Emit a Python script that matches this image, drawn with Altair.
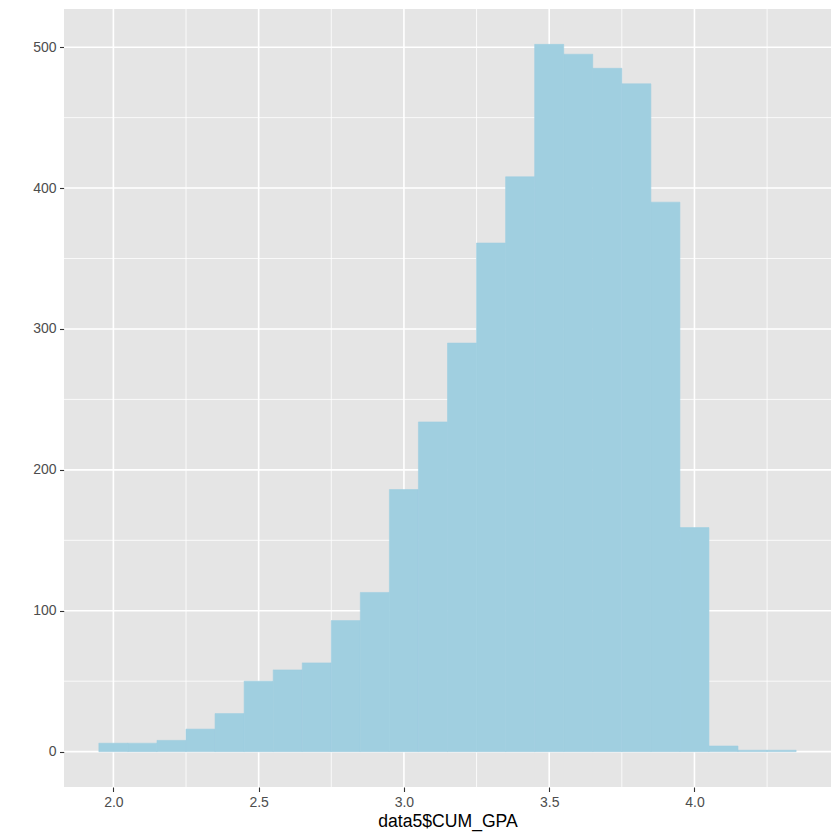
import altair as alt
import pandas as pd

# histogram bins (width 0.1)
bin_start = [1.95, 2.05, 2.15, 2.25, 2.35, 2.45, 2.55, 2.65, 2.75, 2.85, 2.95, 3.05,
             3.15, 3.25, 3.35, 3.45, 3.55, 3.65, 3.75, 3.85, 3.95, 4.05, 4.15, 4.25]
counts = [6, 6, 8, 16, 27, 50, 58, 63, 93, 113, 186, 234,
          290, 361, 408, 502, 495, 485, 474, 390, 159, 4, 1, 1]
x_major = [2.0, 2.5, 3.0, 3.5, 4.0]
x_minor = [2.25, 2.75, 3.25, 3.75, 4.25]
y_major = [0, 100, 200, 300, 400, 500]
y_minor = [50, 150, 250, 350, 450]

df = pd.DataFrame({
    "start": bin_start,
    "end": [round(s + 0.1, 2) for s in bin_start],
    "count": counts,
    "zero": [0] * len(counts),
})

xscale = alt.Scale(domain=[1.83, 4.47], nice=False, zero=False)
yscale = alt.Scale(domain=[-25.1, 527.1], nice=False, zero=False)
xaxis = alt.Axis(values=x_major, format=".1f", title="data5$CUM_GPA")
yaxis = alt.Axis(values=y_major, format="d", title=None)

grid_color = "#FFFFFF"
bar_color = "#A0CFE0"

vminor = alt.Chart(pd.DataFrame({"x": x_minor})).mark_rule(
    color=grid_color, strokeWidth=0.8
).encode(x=alt.X("x:Q", scale=xscale, axis=xaxis))
vmajor = alt.Chart(pd.DataFrame({"x": x_major})).mark_rule(
    color=grid_color, strokeWidth=1.6
).encode(x=alt.X("x:Q", scale=xscale, axis=xaxis))
hminor = alt.Chart(pd.DataFrame({"y": y_minor})).mark_rule(
    color=grid_color, strokeWidth=0.8
).encode(y=alt.Y("y:Q", scale=yscale, axis=yaxis))
hmajor = alt.Chart(pd.DataFrame({"y": y_major})).mark_rule(
    color=grid_color, strokeWidth=1.6
).encode(y=alt.Y("y:Q", scale=yscale, axis=yaxis))

bars = alt.Chart(df).mark_rect(
    color=bar_color, fill=bar_color, stroke=bar_color, strokeWidth=0.6, opacity=1
).encode(
    x=alt.X("start:Q", scale=xscale, axis=xaxis),
    x2="end:Q",
    y=alt.Y("count:Q", scale=yscale, axis=yaxis),
    y2="zero:Q",
)

chart = alt.layer(vminor, vmajor, hminor, hmajor, bars).properties(
    width=767, height=778,
    autosize=alt.AutoSizeParams(type="none"),
    padding={"left": 56, "top": 1, "right": 1, "bottom": 45},
).configure_view(
    fill="#E5E5E5", stroke=None
).configure_axis(
    domain=False, grid=False,
    tickColor="#333333", tickSize=4.5, tickWidth=1.1,
    labelColor="#4D4D4D", labelFont="Liberation Sans", labelFontSize=14,
    labelPadding=3.5,
    titleFont="Liberation Sans", titleFontSize=17.6, titleFontWeight="normal",
    titleColor="#000000", titlePadding=3,
)

chart.save("out.html", embed_options={"renderer": "svg", "actions": False})
